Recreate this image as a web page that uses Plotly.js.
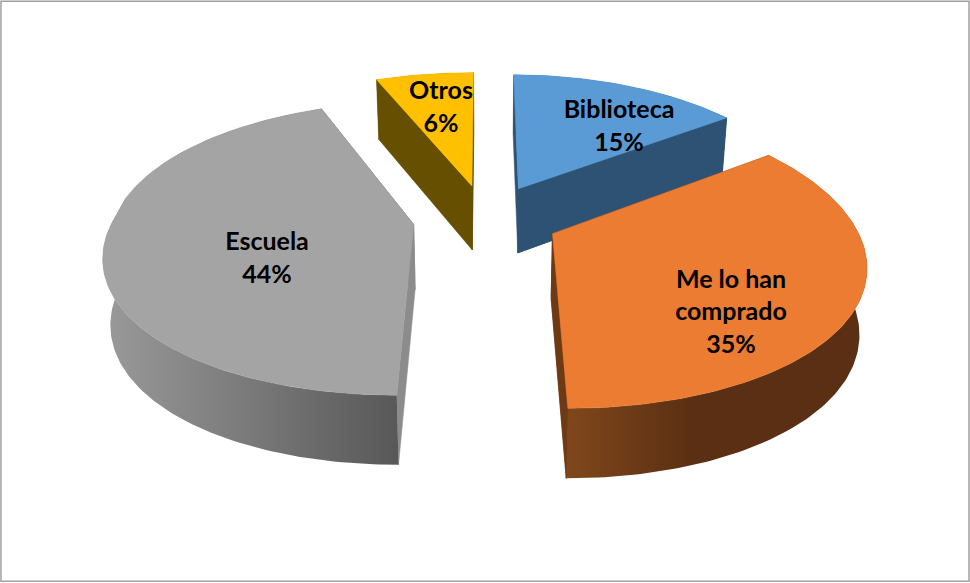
<!DOCTYPE html>
<html>
<head>
<meta charset="utf-8">
<script src="https://cdn.plot.ly/plotly-3.0.1.min.js"></script>
<style>html,body{margin:0;padding:0;background:#fff}#chart{width:970px;height:583px}</style>
</head>
<body>
<div id="chart"></div>
<script>
// Data
const categories = ['Biblioteca', 'Me lo han|comprado', 'Escuela', 'Otros'];
const percentages = [15, 35, 44, 6];

// Styling
const topColors = ['#5B9BD5', '#EB7C31', '#A4A4A4', '#FFC000'];
const cutColors = ['#2E5274', '#6E3A14', '#8C8C8C', '#665000'];
const wallScales = [
  [[0, '#2E5274'], [1, '#2E5274']],
  [[0, '#80471B'], [0.42, '#5B2F13'], [1, '#5B2F13']],
  [[0, '#9A9A9A'], [1, '#585858']],
  [[0, '#665000'], [1, '#665000']]
];
const drawOrder = [0, 3, 2, 1];
const labelCenters = [[619, 128], [731, 314], [267, 260], [441, 109]];
const nudgeX = [0, 0, -2, -2];
const backPerspective = [0.00062, 0.00062, 0.0004, 0.0004];

// Projection constants for the tilted, exploded pie
const CX = 487, CY = 218, R = 300, PULL = 72, TILT = 0.47, PX = 0.00062, PY = 0.000537, BASE_SHRINK = 0.98;
const rad = d => d * Math.PI / 180;

function project(X, Y, depth, pxBack) {
  const fx = 1 / (1 + (Y > 0 ? pxBack : PX) * Y), fy = 1 / (1 + PY * Y);
  const h = depth ? 65 - 0.015 * Y : 0;
  return [CX + X * fx * (depth ? BASE_SHRINK : 1), CY - TILT * Y * fy + h];
}

const total = percentages.reduce((a, b) => a + b, 0);
let acc = 0;
const slices = percentages.map((v, i) => {
  const start = acc / total * 360;
  acc += v;
  return { start, end: acc / total * 360, nudge: nudgeX[i], pxBack: backPerspective[i] };
});

function point(s, r, angle, depth) {
  const mid = rad((s.start + s.end) / 2), a = rad(angle);
  return project(s.nudge + PULL * Math.sin(mid) + r * Math.sin(a), PULL * Math.cos(mid) + r * Math.cos(a), depth, s.pxBack);
}

function arc(s, depth) {
  const n = Math.max(12, Math.ceil(s.end - s.start));
  const pts = [];
  for (let i = 0; i <= n; i++) pts.push(point(s, R, s.start + (s.end - s.start) * i / n, depth));
  return pts;
}

function poly(pts, color, extra) {
  const closed = pts.concat([pts[0]]);
  return Object.assign({
    type: 'scatter', mode: 'lines', x: closed.map(p => p[0]), y: closed.map(p => p[1]),
    fill: 'toself', fillcolor: color, line: { width: 0.5, color: color },
    hoverinfo: 'skip', showlegend: false
  }, extra || {});
}

function cut(s, angle, color) {
  return poly([point(s, 0, 0, false), point(s, R, angle, false), point(s, R, angle, true), point(s, 0, 0, true)], color);
}

const traces = [];
drawOrder.forEach(i => {
  const s = slices[i];
  const top = arc(s, false), bottom = arc(s, true);
  traces.push(cut(s, s.start, cutColors[i]));
  traces.push(cut(s, s.end, cutColors[i]));
  const wall = top.concat(bottom.slice().reverse());
  traces.push(poly(wall, cutColors[i], {
    line: { width: 0 },
    fillgradient: { type: 'horizontal', colorscale: wallScales[i] }
  }));
  traces.push(cut(s, s.end, cutColors[i]));
  traces.push(poly([point(s, 0, 0, false)].concat(top), topColors[i]));
});

const lx = [], ly = [], lt = [];
categories.forEach((c, i) => {
  const lines = c.split('|').concat([percentages[i] + '%']);
  lines.forEach((t, k) => {
    lx.push(labelCenters[i][0]);
    ly.push(labelCenters[i][1] + (k - (lines.length - 1) / 2) * 32.5);
    lt.push(t);
  });
});
traces.push({
  type: 'scatter', mode: 'text', x: lx, y: ly, text: lt, textposition: 'middle center',
  textfont: { family: 'Lato, sans-serif', size: 25, color: '#000000', weight: 700 },
  hoverinfo: 'skip', showlegend: false
});

Plotly.newPlot('chart', traces, {
  width: 970, height: 583,
  margin: { l: 0, r: 0, t: 0, b: 0 },
  paper_bgcolor: '#fff', plot_bgcolor: '#fff',
  xaxis: { range: [0, 970], visible: false, fixedrange: true },
  yaxis: { range: [583, 0], visible: false, fixedrange: true },
  shapes: [{ type: 'rect', xref: 'paper', yref: 'paper', x0: 0.001, x1: 0.999, y0: 0.003, y1: 0.998,
             line: { color: '#A0A0A0', width: 1.5 }, fillcolor: 'rgba(0,0,0,0)' }],
  showlegend: false
}, { displayModeBar: false, staticPlot: true });
</script>
</body>
</html>
